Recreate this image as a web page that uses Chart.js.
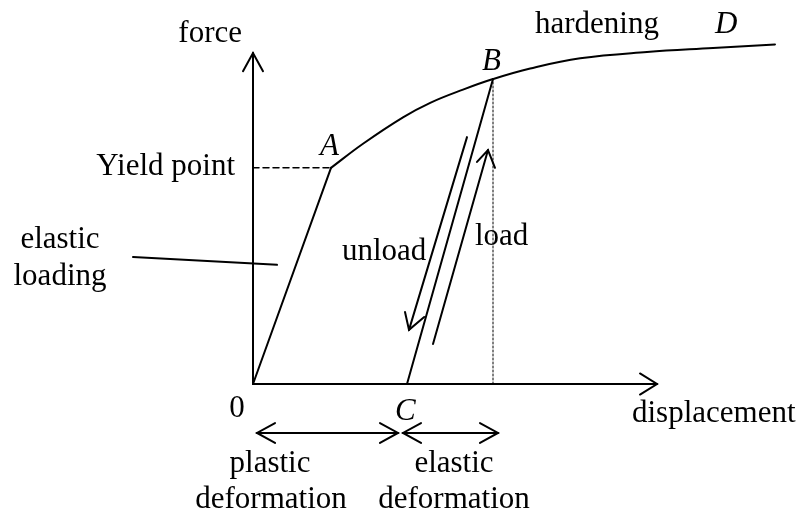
<!DOCTYPE html>
<html>
<head>
<meta charset="utf-8">
<script src="https://cdn.jsdelivr.net/npm/chart.js@4/dist/chart.umd.min.js"></script>
<style>
  html, body { margin: 0; padding: 0; background: #ffffff; }
  #wrap { width: 803px; height: 515px; position: relative; }
</style>
</head>
<body>
<div id="wrap"><canvas id="c"></canvas></div>
<script>
// ---- Data (displacement, force) in diagram units ----
const elasticX = [0, 1.95];            // O -> A
const elasticY = [0, 6.55];
const hardeningX = [1.95, 2.75, 3.75, 4.43, 5.25, 6.0, 6.93, 8.18, 9.85, 11.5, 13.05];   // A -> B -> D
const hardeningY = [6.55, 7.28, 8.08, 8.52, 8.92, 9.24, 9.56, 9.87, 10.06, 10.18, 10.29];
const unloadX = [6.0, 3.85];           // B -> C
const unloadY = [9.24, 0];
const yieldX = [0, 1.95];              // yield level (dashed)
const yieldY = [6.55, 6.55];
const dropX = [6.0, 6.0];              // B down to axis (dotted)
const dropY = [0, 9.24];
const leaderX = [-3.0, 0.6];           // "elastic loading" pointer
const leaderY = [3.85, 3.61];
const axisYX = [0, 0];                 // force axis
const axisYY = [0, 10.03];
const axisXX = [0, 10.1];              // displacement axis
const axisXY = [0, 0];
const unloadArrowX = [5.35, 3.9];      // unload arrow shaft (tail, tip)
const unloadArrowY = [7.48, 1.64];
const loadArrowX = [4.5, 5.875];       // load arrow shaft (tail, tip)
const loadArrowY = [1.21, 7.09];
const plasticSpanX = [0.1, 3.625];     // plastic deformation span
const elasticSpanX = [3.75, 6.125];    // elastic deformation span
const spanY = -1.485;

// arrow head points (wing, tip, wing)
const headYAxisX = [-0.25, 0, 0.25], headYAxisY = [9.48, 10.03, 9.48];
const headXAxisX = [9.675, 10.1, 9.675], headXAxisY = [0.32, 0, -0.32];
const headUnloadX = [3.8, 3.9, 4.28], headUnloadY = [2.18, 1.64, 2.03];
const headLoadX = [5.6, 5.875, 6.05], headLoadY = [6.73, 7.09, 6.55];

function pts(xs, ys) { return xs.map((x, i) => ({ x: x, y: ys[i] })); }
function flat(xs, y) { return xs.map(x => ({ x: x, y: y })); }
function headL(xs, y) { return [{x: xs[0] + 0.45, y: y + 0.30}, {x: xs[0], y: y}, {x: xs[0] + 0.45, y: y - 0.30}]; }
function headR(xs, y) { return [{x: xs[1] - 0.45, y: y + 0.30}, {x: xs[1], y: y}, {x: xs[1] - 0.45, y: y - 0.30}]; }

function line(data, extra) {
  return Object.assign({
    data: data, showLine: true, borderColor: '#000', borderWidth: 2,
    pointRadius: 0, fill: false, tension: 0
  }, extra || {});
}

const datasets = [
  line(pts(axisYX, axisYY)),
  line(pts(headYAxisX, headYAxisY)),
  line(pts(axisXX, axisXY)),
  line(pts(headXAxisX, headXAxisY)),
  line(pts(elasticX, elasticY)),
  line(pts(hardeningX, hardeningY), { tension: 0.4 }),
  line(pts(unloadX, unloadY)),
  line(pts(yieldX, yieldY), { borderWidth: 1.5, borderDash: [6, 4] }),
  line(pts(dropX, dropY), { borderWidth: 1, borderDash: [2, 2] }),
  line(pts(leaderX, leaderY)),
  line(pts(unloadArrowX, unloadArrowY)),
  line(pts(headUnloadX, headUnloadY)),
  line(pts(loadArrowX, loadArrowY)),
  line(pts(headLoadX, headLoadY)),
  line(flat(plasticSpanX, spanY)),
  line(headL(plasticSpanX, spanY)),
  line(headR(plasticSpanX, spanY)),
  line(flat(elasticSpanX, spanY)),
  line(headL(elasticSpanX, spanY)),
  line(headR(elasticSpanX, spanY))
];

// ---- text labels (anchor in diagram units) ----
const labels = [
  { t: 'force', x: -0.275, y: 10.36, a: 'right' },
  { t: 'hardening', x: 7.05, y: 10.64, a: 'left' },
  { t: 'D', x: 11.55, y: 10.64, a: 'left', i: true },
  { t: 'B', x: 5.725, y: 9.52, a: 'left', i: true },
  { t: 'A', x: 1.675, y: 6.94, a: 'left', i: true },
  { t: 'Yield point', x: -0.45, y: 6.33, a: 'right' },
  { t: 'elastic', x: -4.825, y: 4.12, a: 'center' },
  { t: 'loading', x: -4.825, y: 3.0, a: 'center' },
  { t: 'unload', x: 2.225, y: 3.76, a: 'left' },
  { t: 'load', x: 5.55, y: 4.21, a: 'left' },
  { t: '0', x: -0.4, y: -1.0, a: 'center' },
  { t: 'C', x: 3.55, y: -1.09, a: 'left', i: true },
  { t: 'displacement', x: 9.475, y: -1.15, a: 'left' },
  { t: 'plastic', x: 0.425, y: -2.67, a: 'center' },
  { t: 'deformation', x: 0.45, y: -3.76, a: 'center' },
  { t: 'elastic', x: 5.025, y: -2.67, a: 'center' },
  { t: 'deformation', x: 5.025, y: -3.76, a: 'center' }
];

const textPlugin = {
  id: 'diagramText',
  beforeDraw(chart) {
    const ctx = chart.ctx;
    ctx.save();
    ctx.fillStyle = '#fff';
    ctx.fillRect(0, 0, chart.width, chart.height);
    ctx.restore();
  },
  afterDatasetsDraw(chart) {
    const ctx = chart.ctx, xs = chart.scales.x, ys = chart.scales.y;
    ctx.save();
    ctx.fillStyle = '#000';
    ctx.textBaseline = 'alphabetic';
    labels.forEach(l => {
      ctx.font = (l.i ? 'italic ' : '') + '31px "Liberation Serif", "Times New Roman", serif';
      ctx.textAlign = l.a;
      ctx.fillText(l.t, xs.getPixelForValue(l.x), ys.getPixelForValue(l.y));
    });
    ctx.restore();
  }
};

new Chart(document.getElementById('c'), {
  type: 'scatter',
  data: { datasets: datasets },
  options: {
    responsive: true,
    maintainAspectRatio: false,
    animation: false,
    layout: { padding: 0 },
    plugins: { legend: { display: false }, tooltip: { enabled: false }, title: { display: false } },
    elements: { line: { borderCapStyle: 'round', borderJoinStyle: 'miter' } },
    scales: {
      x: { type: 'linear', display: false, min: -6.325, max: 13.75 },
      y: { type: 'linear', display: false, min: -3.97, max: 11.636 }
    }
  },
  plugins: [textPlugin]
});
</script>
</body>
</html>
